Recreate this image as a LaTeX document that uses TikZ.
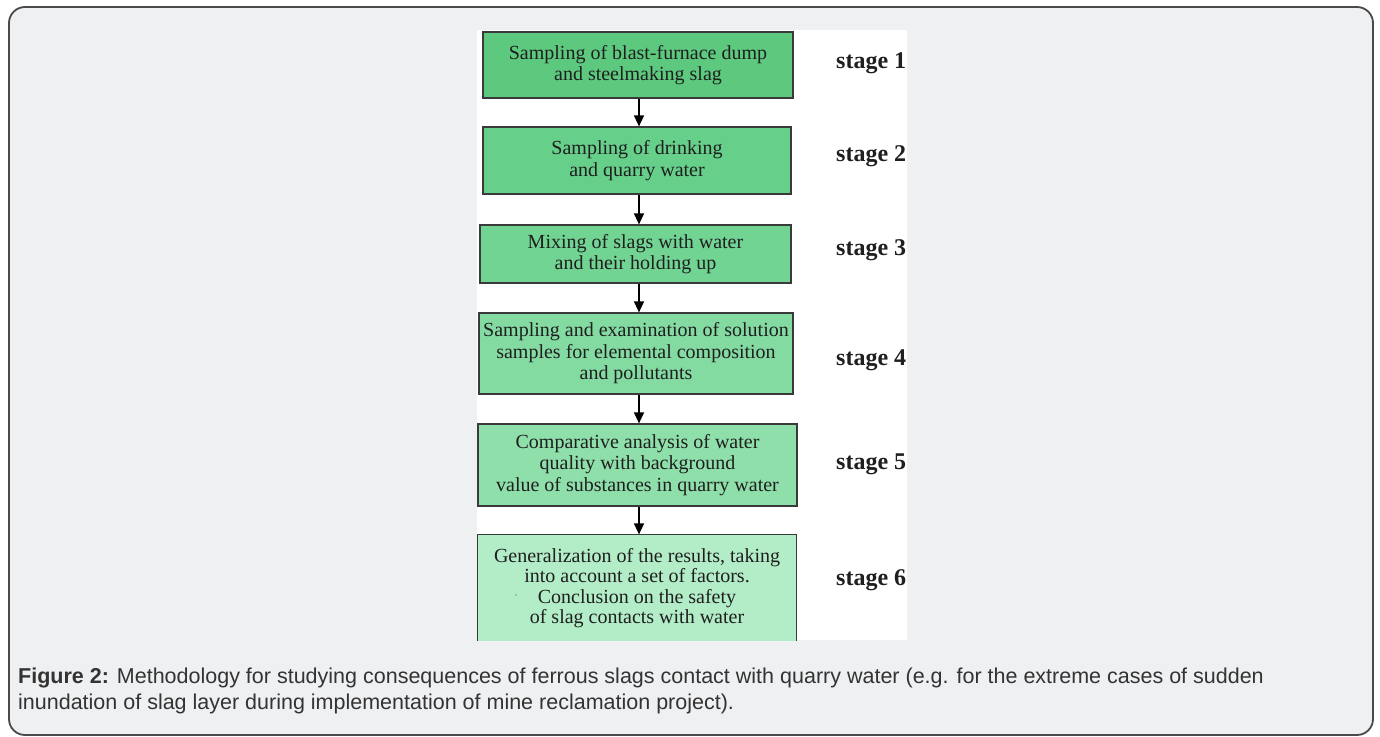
\documentclass[tikz,border=0pt]{standalone}
\usepackage{fontspec}
\setmainfont{Liberation Serif}
\newfontfamily\capfont{Liberation Sans}
\usetikzlibrary{arrows.meta}
\definecolor{pagebg}{HTML}{EFF0F2}
\definecolor{frameline}{HTML}{4A4A4A}
\definecolor{gA}{HTML}{5CC97E}
\definecolor{gB}{HTML}{66CF89}
\definecolor{gC}{HTML}{71D493}
\definecolor{gD}{HTML}{84DBA2}
\definecolor{gE}{HTML}{8FDFAB}
\definecolor{gF}{HTML}{B2EDC8}
\definecolor{boxline}{HTML}{3A3A3A}
\definecolor{captext}{HTML}{333333}
\tikzset{
  stepbox/.style={draw=boxline, line width=1.2pt, align=center, inner sep=0pt,
    font=\fontsize{20}{21.5}\selectfont, text=black!88},
  stagelabel/.style={anchor=west, inner sep=0pt, font=\fontsize{24}{26}\selectfont\bfseries, text=black!88},
  flow/.style={line width=1.4pt, -{Triangle[length=11pt,width=10pt]}},
  captionline/.style={anchor=base west, inner sep=0pt, text=captext,
    font=\capfont\fontsize{21.5}{26}\selectfont},
}
\begin{document}
\begin{tikzpicture}[x=1pt,y=-1pt]
\useasboundingbox (0,0) rectangle (1380,736);
\fill[white] (0,0) rectangle (1380,736);
% outer frame
\draw[frameline, line width=1.8pt, fill=pagebg, rounded corners=16pt] (9,7) rectangle (1373,735);
% white panel and diagram, clipped
\begin{scope}
\clip (477,30) rectangle (907,640);
\fill[white] (477,30) rectangle (907,640);
\node[stepbox, fill=gA, minimum width=310pt, minimum height=66pt] (b1) at (638,65)
  {Sampling of blast-furnace dump\\and steelmaking slag};
\node[stepbox, fill=gB, minimum width=308pt, minimum height=67pt] (b2) at (637,160.5)
  {Sampling of drinking\\and quarry water};
\node[stepbox, fill=gC, minimum width=311pt, minimum height=58pt] (b3) at (635.5,254)
  {Mixing of slags with water\\and their holding up};
\node[stepbox, fill=gD, minimum width=314pt, minimum height=81pt] (b4) at (636,353.5)
  {Sampling and examination of solution\\samples for elemental composition\\and pollutants};
\node[stepbox, fill=gE, minimum width=319pt, minimum height=82pt] (b5) at (637.5,465)
  {Comparative analysis of water\\quality with background\\value of substances in quarry water};
\node[stepbox, draw=none, fill=gF, minimum width=318pt, minimum height=125pt] (b6) at (637,597.5)
  {};
\draw[boxline, line width=1.2pt] (b6.south west) -- (b6.north west) -- (b6.north east) -- (b6.south east);
\node[stepbox, draw=none, anchor=center, font=\fontsize{20}{20.5}\selectfont] (t6) at (637,588)
  {Generalization of the results, taking\\into account a set of factors.\\Conclusion on the safety\\of slag contacts with water};
\node[inner sep=0pt, font=\fontsize{12}{12}\selectfont, text=black!55] (dot6) at (516,597) {·};
\node[stagelabel] (s1) at (836,63) {stage 1};
\node[stagelabel] (s2) at (836,156) {stage 2};
\node[stagelabel] (s3) at (836,250) {stage 3};
\node[stagelabel] (s4) at (836,360) {stage 4};
\node[stagelabel] (s5) at (836,464) {stage 5};
\node[stagelabel] (s6) at (836,580) {stage 6};
\draw[flow] (b1.south -| 639,0) -- (b2.north -| 639,0);
\draw[flow] (b2.south -| 639,0) -- (b3.north -| 639,0);
\draw[flow] (b3.south -| 639,0) -- (b4.north -| 639,0);
\draw[flow] (b4.south -| 639,0) -- (b5.north -| 639,0);
\draw[flow] (b5.south -| 639,0) -- (b6.north -| 639,0);
\end{scope}
% caption
\node[captionline] (cap1) at (18,683)
  {\textbf{Figure 2:} Methodology for studying consequences of ferrous slags contact with quarry water (e.g. for the extreme cases of sudden};
\node[captionline] (cap2) at (18,709)
  {inundation of slag layer during implementation of mine reclamation project).};
\end{tikzpicture}
\end{document}
